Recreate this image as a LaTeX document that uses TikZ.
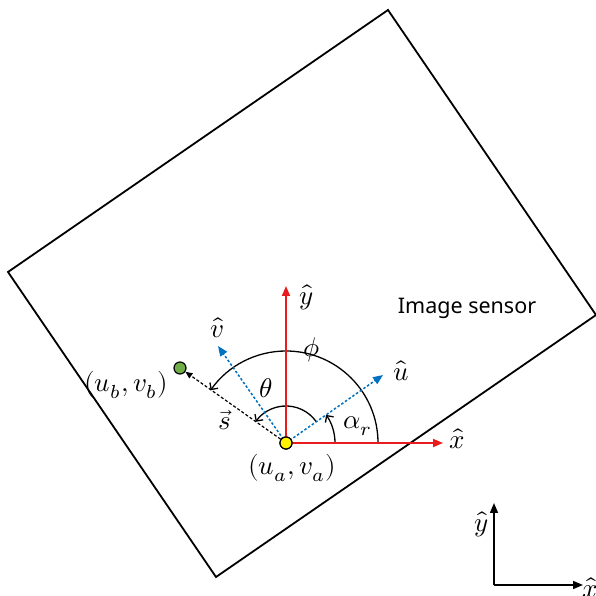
\documentclass[tikz,border=0pt]{standalone}
\usepackage{fontspec}
\usepackage{unicode-math}
\setmathfont{Latin Modern Math}
\newfontfamily\sensorfont{Noto Sans}
\usetikzlibrary{arrows.meta}
\definecolor{axred}{RGB}{232,28,28}
\definecolor{axblue}{RGB}{0,112,192}
\definecolor{ptgreen}{RGB}{112,173,71}
\begin{document}
\begin{tikzpicture}[x=1pt,y=1pt,
  lbl/.style={inner sep=0pt, scale=2.7},
  axis/.style={draw=axred, line width=1.8pt, -{Triangle[length=10pt,width=8pt]}},
  sensaxis/.style={draw=axblue, line width=1.5pt, dash pattern=on 2.5pt off 2pt, -{Triangle[length=10pt,width=8pt]}},
  anglearc/.style={line width=1.3pt, -{Straight Barb[length=5pt,width=10pt]}},
  frameaxis/.style={line width=1.5pt, -{Triangle[length=10pt,width=8pt]}}]
\useasboundingbox (0,0) rectangle (596,596);
% image sensor
\draw[line width=1.8pt] (388,586) -- (596,281) -- (216,19) -- (8,324) -- cycle;
\node[font=\sensorfont\fontsize{21.5}{24}\selectfont, inner sep=0pt] (sensor) at (467,288) {Image sensor};
% points
\node[circle, draw, line width=1.2pt, fill=yellow, minimum size=12pt, inner sep=0pt] (a) at (286,153) {};
\node[circle, draw, line width=1.2pt, fill=ptgreen, minimum size=12pt, inner sep=0pt] (b) at (180,228) {};
\coordinate (xh) at (443,153);
\coordinate (yh) at (286,310);
\coordinate (uh) at (383,221);
\coordinate (vh) at (218,250);
% angles
\draw[anglearc] (a.center) ++(0:92pt) arc[start angle=0, end angle=145, radius=92pt];
\draw[anglearc] (a.center) ++(35:37pt) arc[start angle=35, end angle=145, radius=37pt];
\draw[anglearc] (a.center) ++(0:49pt) arc[start angle=0, end angle=35, radius=49pt];
% axes
\draw[sensaxis] (a.center) -- (uh);
\draw[sensaxis] (a.center) -- (vh);
\draw[axis] (a.center) -- (xh);
\draw[axis] (a.center) -- (yh);
\draw[line width=1.2pt, dash pattern=on 3pt off 2pt, -{Triangle[length=7pt,width=6pt]}] (a) -- (b);
\node[circle, draw, line width=1.2pt, fill=yellow, minimum size=12pt, inner sep=0pt] at (a) {};
% labels
\node[lbl] (xl) at (457,157) {$\hat{x}$};
\node[lbl] (yl) at (306,299) {$\hat{y}$};
\node[lbl] (ul) at (401,225) {$\hat{u}$};
\node[lbl] (vl) at (217,268) {$\hat{v}$};
\node[lbl] (phil) at (312,246) {$\phi$};
\node[lbl] (thl) at (266,208) {$\theta$};
\node[lbl] (al) at (358,170) {$\alpha_r$};
\node[lbl] (sl) at (225,176) {$\vec{s}$};
\node[lbl] (bl) at (126,211) {$(u_b,v_b)$};
\node[lbl] (al2) at (292,128) {$(u_a,v_a)$};
% reference frame
\coordinate (o) at (494,11);
\coordinate (oy) at (494,93);
\coordinate (ox) at (583,11);
\draw[frameaxis] (o) -- (oy);
\draw[frameaxis] (o) -- (ox);
\node[lbl] (oyl) at (481,72) {$\hat{y}$};
\node[lbl] (oxl) at (590,8) {$\hat{x}$};
\end{tikzpicture}
\end{document}
